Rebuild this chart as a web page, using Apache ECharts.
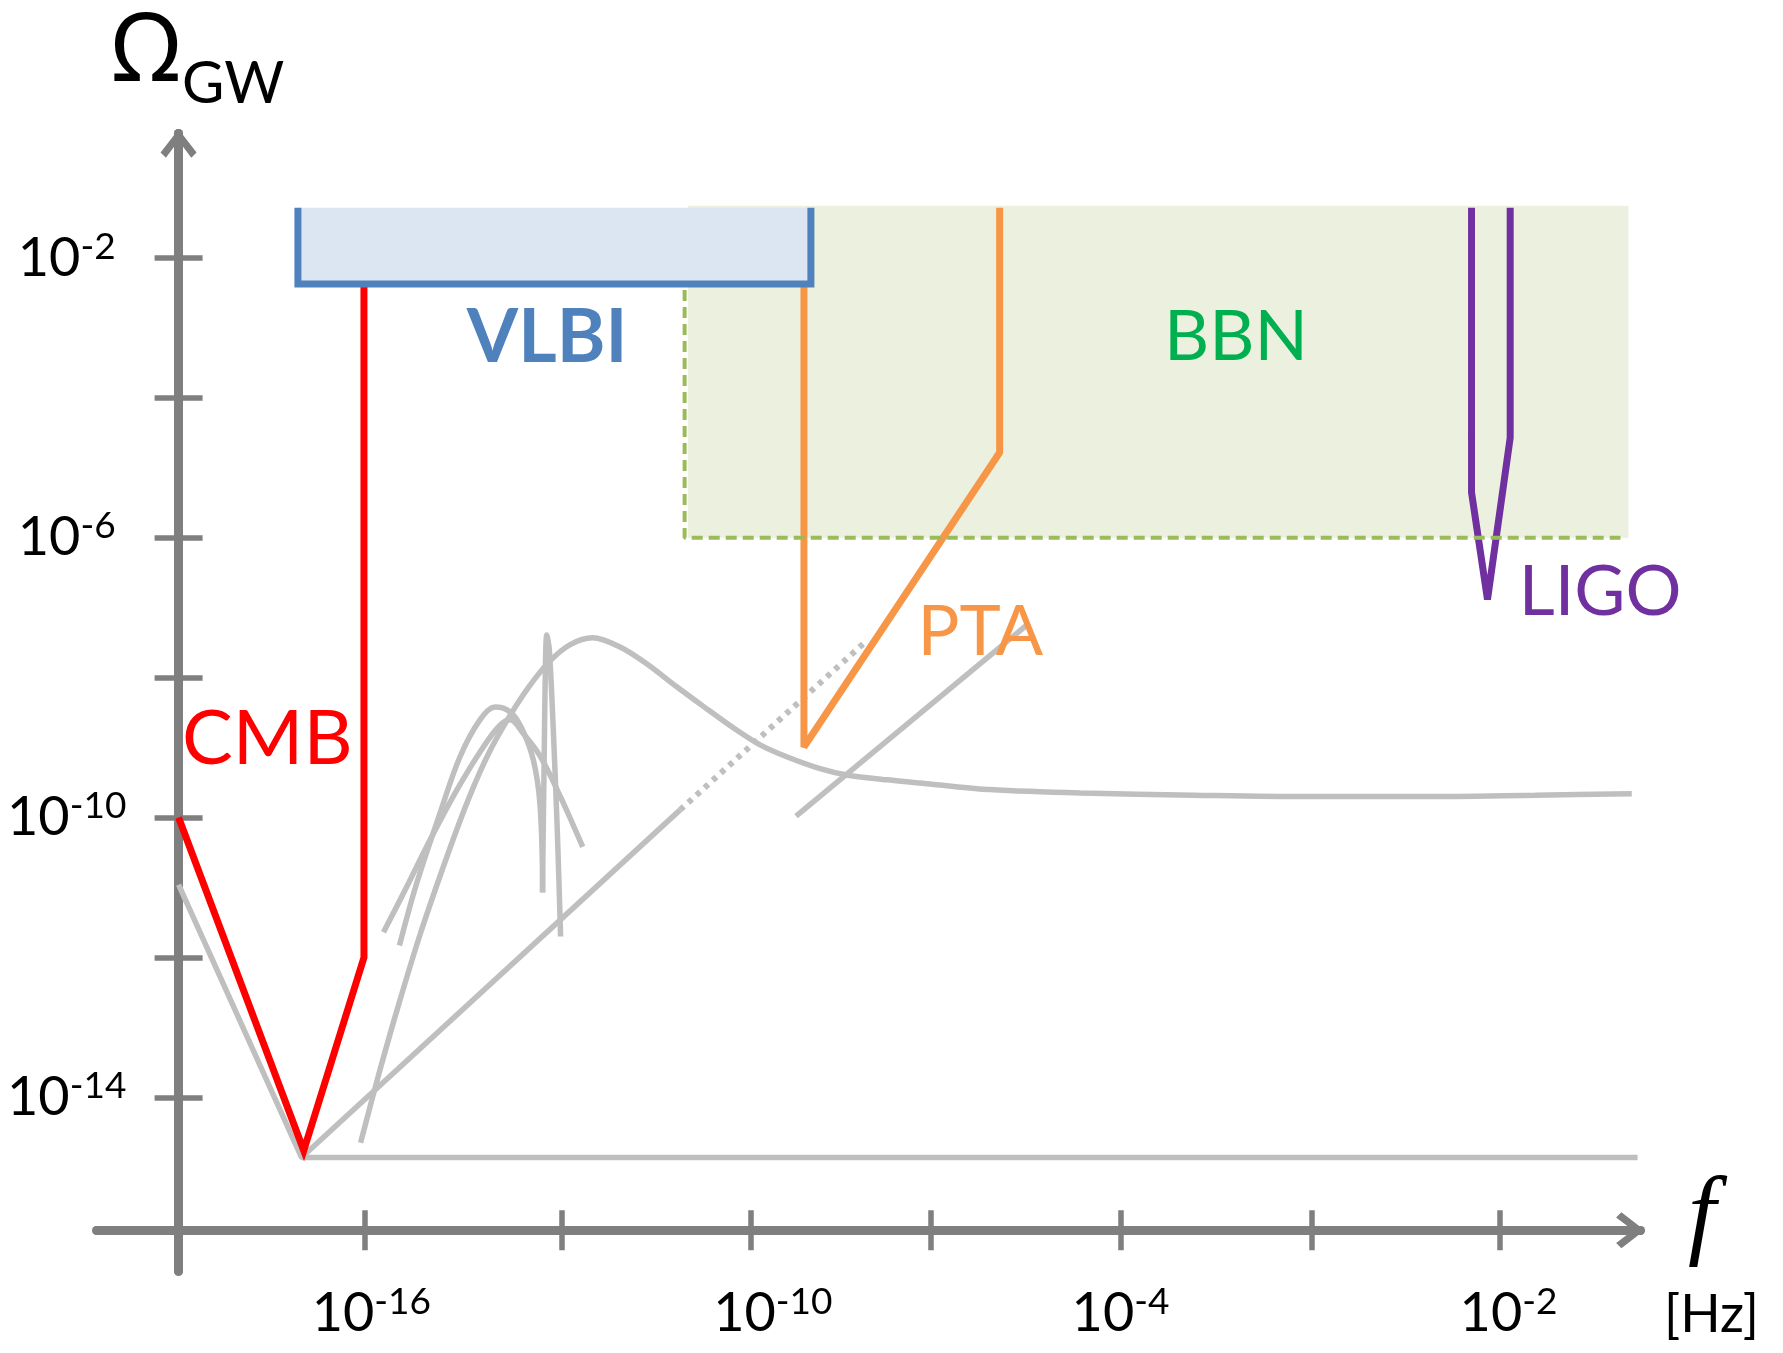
<!DOCTYPE html>
<html><head><meta charset="utf-8">
<script src="https://cdn.jsdelivr.net/npm/echarts@6/dist/echarts.min.js"></script>
<style>html,body{margin:0;padding:0;background:#fff}#c{width:1783px;height:1353px}</style>
</head><body><div id="c"></div>
<script>
// x: schematic frequency position in axis units (the Omega axis sits at x = 0)
// y: log10(Omega_GW)
const xTicks = [0.99, 2.04, 3.05, 4.01, 5.02, 6.04, 7.04];
const xTickExp = ['-16', '', '-10', '', '-4', '', '-2'];
const yTicks = [-14, -12, -10, -8, -6, -4, -2];
const yLabelVals = [-14, -10, -6, -2];

// coloured constraints
const cmbX = [0, 0.667, 0.988, 0.988];
const cmbY = [-10.0, -14.76, -12.0, -2.37];
const ptaX = [3.333, 3.333, 4.376, 4.376];
const ptaY = [-2.41, -8.99, -4.78, -1.28];
const ligoX = [6.891, 6.891, 6.976, 7.097, 7.097];
const ligoY = [-1.28, -5.35, -6.88, -4.57, -1.28];
const vlbiX = [0.636, 0.636, 3.370, 3.370];
const vlbiY = [-1.28, -2.37, -2.37, -1.28];
const vlbiBox = [0.636, -2.37, 3.370, -1.28];
const bbnX = [2.697, 2.697, 7.685];
const bbnY = [-2.455, -6.0, -6.0];
const bbnBox = [2.715, -6.0, 7.727, -1.25];

// grey model spectra
const floorX = [0, 0.655, 7.776];
const floorY = [-10.96, -14.86, -14.86];
const rampX = [0.655, 2.673];
const rampY = [-14.86, -9.89];
const rampDotX = [2.673, 3.655];
const rampDotY = [-9.89, -7.50];
const ramp2X = [3.291, 4.533];
const ramp2Y = [-9.98, -7.22];
const humpX = [0.970, 1.067, 1.170, 1.291, 1.442, 1.552, 1.655, 1.764, 1.867, 1.976, 2.085, 2.206, 2.353, 2.495, 2.655, 2.797, 2.958, 3.099, 3.241, 3.419, 3.561, 3.775, 4.041, 4.325, 4.806, 5.412, 6.018, 6.624, 7.230, 7.745];
const humpY = [-14.65, -13.67, -12.70, -11.64, -10.47, -9.69, -9.07, -8.55, -8.13, -7.77, -7.53, -7.43, -7.56, -7.80, -8.13, -8.41, -8.72, -8.96, -9.13, -9.30, -9.39, -9.46, -9.53, -9.60, -9.65, -9.68, -9.70, -9.70, -9.68, -9.66];
const peakAX = [1.177, 1.269, 1.393, 1.500, 1.607, 1.687, 1.767, 1.828, 1.891, 1.927, 1.941];
const peakAY = [-11.83, -10.94, -9.94, -9.13, -8.60, -8.42, -8.49, -8.72, -9.18, -9.84, -11.07];
const peakBX = [1.092, 1.216, 1.340, 1.482, 1.624, 1.713, 1.767, 1.838, 1.927, 2.033, 2.154];
const peakBY = [-11.64, -10.99, -10.32, -9.61, -8.99, -8.68, -8.60, -8.80, -9.12, -9.69, -10.42];
const spikeX = [1.939, 1.948, 1.955, 1.962, 1.976, 1.998, 2.019, 2.036];
const spikeY = [-11.07, -9.27, -7.84, -7.39, -7.60, -8.80, -10.23, -11.70];

// annotations
const annText = ['CMB', 'VLBI', 'BBN', 'PTA', 'LIGO'];
const annX = [0.473, 1.964, 5.636, 4.273, 7.576];
const annY = [-8.88, -3.14, -3.14, -7.35, -6.78];

// ---- styles ----
const FONT = 'Lato, "Noto Sans", sans-serif';
const GREY = '#bfbfbf';
const AXIS = '#7f7f7f';
const annColor = ['#ff0000', '#4f81bd', '#00b050', '#f79646', '#7030a0'];
const annWeight = ['normal', 'bold', 'normal', 'normal', 'normal'];
const annSize = [76, 74, 70, 70, 70];
const xLabelShift = [7, 0, 22, 0, 0, 0, 9]; // px nudges of the tick labels

const zip = (xs, ys) => xs.map((x, i) => [x, ys[i]]);
const X_MIN = -0.4364, X_MAX = 7.791, Y_MIN = -16.488, Y_MAX = -0.218;
const arrowPath = 'path://M17,0 L34,22 L29,27 L17,11 L5,27 L0,22 Z';

function greyLine(xs, ys, extra) {
  return Object.assign({
    type: 'line', data: zip(xs, ys), symbol: 'none', z: 2, silent: true,
    lineStyle: { color: GREY, width: 5.5, cap: 'butt' }
  }, extra || {});
}
function colorLine(xs, ys, color, join) {
  return {
    type: 'line', data: zip(xs, ys), symbol: 'none', z: 3, silent: true,
    lineStyle: { color: color, width: 7, join: join, cap: 'butt' }
  };
}

const xRich = {
  b: { fontSize: 54, fontFamily: FONT, color: '#000', lineHeight: 60 },
  s: { fontSize: 37, fontFamily: FONT, color: '#000', lineHeight: 37, verticalAlign: 'top' }
};
xLabelShift.forEach((s, i) => { if (s > 0) xRich['g' + i] = { width: 2 * s, fontSize: 10 }; });
const yRich = {
  b: { fontSize: 54, fontFamily: FONT, color: '#000', lineHeight: 60 },
  s: { fontSize: 37, fontFamily: FONT, color: '#000', lineHeight: 37, verticalAlign: 'top' }
};

const xAxisBase = {
  type: 'value', min: X_MIN, max: X_MAX, position: 'bottom', offset: -41,
  splitLine: { show: false }
};
const yAxisBase = {
  type: 'value', min: Y_MIN, max: Y_MAX, position: 'left',
  splitLine: { show: false }
};

const chart = echarts.init(document.getElementById('c'), null, { renderer: 'canvas' });
chart.setOption({
  animation: false,
  backgroundColor: '#ffffff',
  grid: { left: 96.7, right: 142.6, top: 133.5, bottom: 81.7, containLabel: false, outerBoundsMode: 'none' },
  title: [
    { text: 'Ω', left: 112, top: 6, padding: 0,
      textStyle: { fontSize: 95, fontWeight: 'normal', fontFamily: '"Noto Sans", sans-serif', color: '#000' } },
    { text: 'GW', left: 182, top: 55, padding: 0,
      textStyle: { fontSize: 58, fontWeight: 'normal', fontFamily: FONT, color: '#000' } },
    { text: 'f', left: 1688, top: 1170, padding: 0,
      textStyle: { fontSize: 100, fontStyle: 'italic', fontWeight: 'normal', fontFamily: '"Liberation Serif", serif', color: '#000' } },
    { text: '[Hz]', left: 1664, top: 1288, padding: 0,
      textStyle: { fontSize: 53, fontWeight: 'normal', fontFamily: FONT, color: '#000' } }
  ],
  xAxis: [
    Object.assign({}, xAxisBase, {
      axisLine: { onZero: false, lineStyle: { color: AXIS, width: 9 },
        symbol: ['none', arrowPath], symbolSize: [36, 32], symbolOffset: [0, -10] },
      axisTick: { show: true, inside: false, length: 20, lineStyle: { color: AXIS, width: 5.5 },
        customValues: xTicks },
      axisLabel: { show: true, margin: 53, customValues: xTicks.filter((t, i) => xTickExp[i]),
        formatter: function (v) {
          const i = xTicks.findIndex(t => Math.abs(t - v) < 1e-6);
          if (i < 0 || !xTickExp[i]) return '';
          return (xLabelShift[i] > 0 ? '{g' + i + '| }' : '') + '{b|10}{s|' + xTickExp[i] + '}';
        }, rich: xRich }
    }),
    Object.assign({}, xAxisBase, {
      axisLine: { show: true, onZero: false, lineStyle: { color: AXIS, width: 9 } },
      axisTick: { show: true, inside: true, length: 20, lineStyle: { color: AXIS, width: 5.5 },
        customValues: xTicks },
      axisLabel: { show: false }
    })
  ],
  yAxis: [
    Object.assign({}, yAxisBase, {
      axisLine: { onZero: true, onZeroAxisIndex: 0, lineStyle: { color: AXIS, width: 9 },
        symbol: ['none', arrowPath], symbolSize: [36, 32], symbolOffset: [0, -10] },
      axisTick: { show: true, inside: true, length: 24, lineStyle: { color: AXIS, width: 5.5 },
        customValues: yTicks },
      axisLabel: { show: true, margin: 30, align: 'center', customValues: yLabelVals,
        formatter: function (v) { return '{b|10}{s|' + Math.round(v) + '}'; }, rich: yRich }
    }),
    Object.assign({}, yAxisBase, {
      axisLine: { show: true, onZero: true, onZeroAxisIndex: 1, lineStyle: { color: AXIS, width: 9 } },
      axisTick: { show: true, inside: false, length: 24, lineStyle: { color: AXIS, width: 5.5 },
        customValues: yTicks },
      axisLabel: { show: false }
    })
  ],
  series: [
    // BBN region
    { type: 'line', data: zip(bbnX, bbnY), symbol: 'none', z: 4, silent: true,
      lineStyle: { color: '#9bbb59', width: 4, type: [11, 6] },
      markArea: { silent: true, z: 0, itemStyle: { color: '#ebf1de' },
        data: [[{ coord: [bbnBox[0], bbnBox[1]] }, { coord: [bbnBox[2], bbnBox[3]] }]] } },
    // grey model curves
    greyLine(floorX, floorY),
    greyLine(rampX, rampY),
    greyLine(rampDotX, rampDotY, { lineStyle: { color: GREY, width: 6, type: [5, 6], cap: 'butt' } }),
    greyLine(ramp2X, ramp2Y),
    greyLine(humpX, humpY, { smooth: 0.3 }),
    greyLine(peakAX, peakAY, { smooth: 0.35 }),
    greyLine(peakBX, peakBY, { smooth: 0.35 }),
    greyLine(spikeX, spikeY, { smooth: 0.3 }),
    // experiments
    colorLine(cmbX, cmbY, '#ff0000', 'miter'),
    colorLine(ptaX, ptaY, '#f79646', 'bevel'),
    colorLine(ligoX, ligoY, '#7030a0', 'bevel'),
    { type: 'line', data: zip(vlbiX, vlbiY), symbol: 'none', z: 5, silent: true,
      lineStyle: { color: '#4f81bd', width: 7, join: 'miter' },
      markArea: { silent: true, z: 1, itemStyle: { color: '#dce6f2' },
        data: [[{ coord: [vlbiBox[0], vlbiBox[1]] }, { coord: [vlbiBox[2], vlbiBox[3]] }]] } },
    // labels
    { type: 'scatter', symbolSize: 0, z: 6, silent: true, itemStyle: { opacity: 1 },
      data: annText.map((t, i) => ({
        value: [annX[i], annY[i]], name: t,
        label: { show: true, position: [0, 0], align: 'center', verticalAlign: 'middle',
          formatter: '{b}', color: annColor[i], fontSize: annSize[i], fontWeight: annWeight[i],
          fontFamily: FONT, opacity: 1 }
      })) }
  ]
});
</script>
</body></html>
